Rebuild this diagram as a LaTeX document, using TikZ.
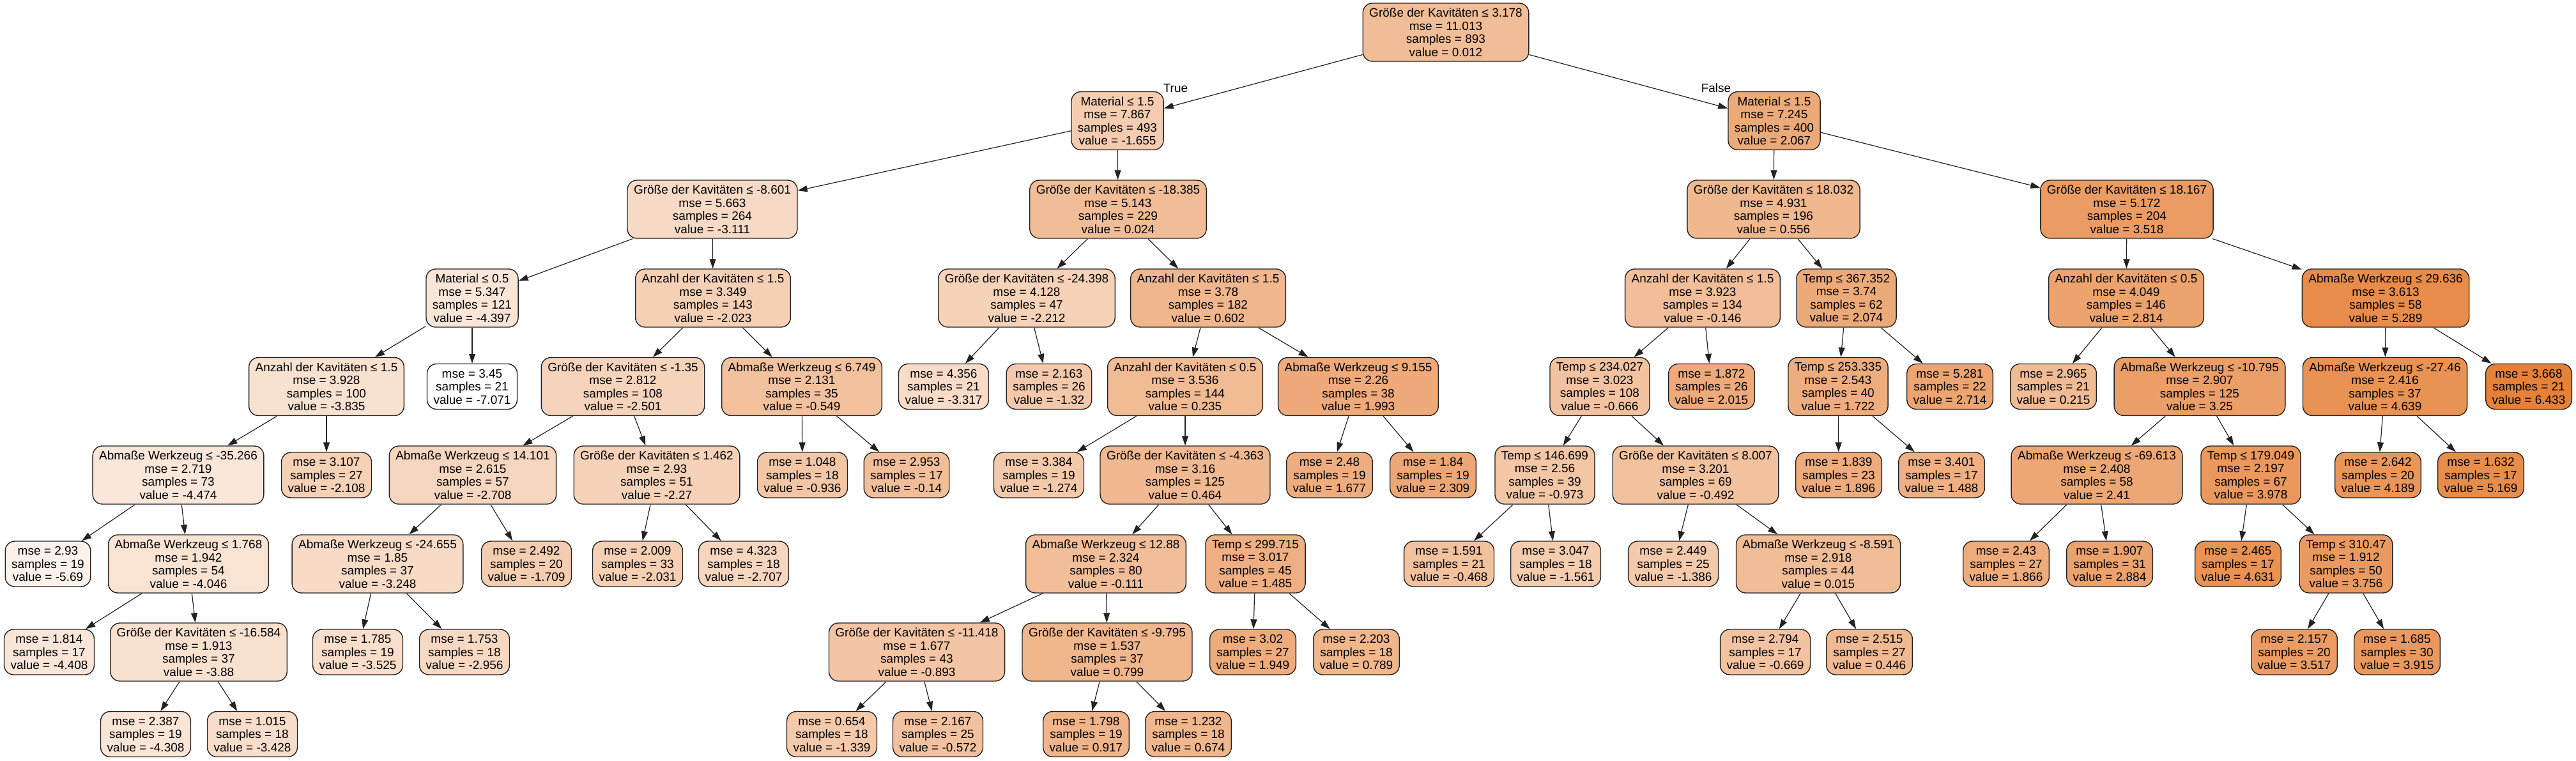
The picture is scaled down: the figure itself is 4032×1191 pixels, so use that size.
\documentclass[tikz,border=0pt]{standalone}
\usepackage{fontspec}
\setmainfont{Liberation Sans}
\usetikzlibrary{arrows.meta}
\definecolor{orng}{HTML}{E58139}
\definecolor{bord}{HTML}{222222}
\tikzset{
  box/.style={draw=bord, line width=1.4pt, rounded corners=15pt, align=center,
    inner xsep=10pt, inner ysep=2pt, font=\fontsize{19}{20.5}\selectfont, text=black},
  dec/.style={box, minimum height=91pt},
  leaf/.style={box, minimum height=71pt},
  edge/.style={line width=1.2pt, draw=bord, -{Triangle[length=15pt,width=10pt]}},
  elabel/.style={font=\fontsize{19}{20.5}\selectfont}
}
\newcommand{\DecN}[8]{\node[dec, fill=orng!#4!white] (#1) at (#2,#3) {#5\\mse = #6\\samples = #7\\value = #8};}
\newcommand{\LeafN}[7]{\node[leaf, fill=orng!#4!white] (#1) at (#2,#3) {mse = #5\\samples = #6\\value = #7};}
\begin{document}
\begin{tikzpicture}[x=1pt,y=-1pt]
\fill[white] (0,0) rectangle (4032,1191);
\useasboundingbox (0,0) rectangle (4032,1191);
% level 0
\DecN{n0}{2263}{50.5}{52.45}{Größe der Kavitäten ≤ 3.178}{11.013}{893}{0.012}
% level 1
\DecN{n1}{1749}{189}{40.11}{Material ≤ 1.5}{7.867}{493}{-1.655}
\DecN{n2}{2777}{189}{67.67}{Material ≤ 1.5}{7.245}{400}{2.067}
% level 2
\DecN{n3}{1115}{327.5}{29.32}{Größe der Kavitäten ≤ -8.601}{5.663}{264}{-3.111}
\DecN{n4}{1750}{327.5}{52.54}{Größe der Kavitäten ≤ -18.385}{5.143}{229}{0.024}
\DecN{n5}{2776}{327.5}{56.48}{Größe der Kavitäten ≤ 18.032}{4.931}{196}{0.556}
\DecN{n6}{3329}{327.5}{78.41}{Größe der Kavitäten ≤ 18.167}{5.172}{204}{3.518}
% level 3
\DecN{n7}{739}{466.5}{19.80}{Material ≤ 0.5}{5.347}{121}{-4.397}
\DecN{n8}{1116}{466.5}{37.38}{Anzahl der Kavitäten ≤ 1.5}{3.349}{143}{-2.023}
\DecN{n9}{1607}{466.5}{35.98}{Größe der Kavitäten ≤ -24.398}{4.128}{47}{-2.212}
\DecN{n10}{1891}{466.5}{56.82}{Anzahl der Kavitäten ≤ 1.5}{3.78}{182}{0.602}
\DecN{n11}{2665}{466.5}{51.28}{Anzahl der Kavitäten ≤ 1.5}{3.923}{134}{-0.146}
\DecN{n12}{2890}{466.5}{67.72}{Temp ≤ 367.352}{3.74}{62}{2.074}
\DecN{n13}{3328}{466.5}{73.20}{Anzahl der Kavitäten ≤ 0.5}{4.049}{146}{2.814}
\DecN{n14}{3734}{466.5}{91.53}{Abmaße Werkzeug ≤ 29.636}{3.613}{58}{5.289}
% level 4
\DecN{n15}{511}{605}{23.96}{Anzahl der Kavitäten ≤ 1.5}{3.928}{100}{-3.835}
\LeafN{n16}{739}{605}{0}{3.45}{21}{-7.071}
\DecN{n17}{975}{605}{33.84}{Größe der Kavitäten ≤ -1.35}{2.812}{108}{-2.501}
\DecN{n18}{1255}{605}{48.30}{Abmaße Werkzeug ≤ 6.749}{2.131}{35}{-0.549}
\LeafN{n19}{1477}{605}{27.80}{4.356}{21}{-3.317}
\LeafN{n20}{1642}{605}{42.59}{2.163}{26}{-1.32}
\DecN{n21}{1855}{605}{54.10}{Anzahl der Kavitäten ≤ 0.5}{3.536}{144}{0.235}
\DecN{n22}{2126}{605}{67.12}{Abmaße Werkzeug ≤ 9.155}{2.26}{38}{1.993}
\DecN{n23}{2504}{605}{47.43}{Temp ≤ 234.027}{3.023}{108}{-0.666}
\LeafN{n24}{2679}{605}{67.28}{1.872}{26}{2.015}
\DecN{n25}{2877}{605}{65.11}{Temp ≤ 253.335}{2.543}{40}{1.722}
\LeafN{n26}{3052}{605}{72.46}{5.281}{22}{2.714}
\LeafN{n27}{3214}{605}{53.95}{2.965}{21}{0.215}
\DecN{n28}{3443}{605}{76.43}{Abmaße Werkzeug ≤ -10.795}{2.907}{125}{3.25}
\DecN{n29}{3733}{605}{86.71}{Abmaße Werkzeug ≤ -27.46}{2.416}{37}{4.639}
\LeafN{n30}{3958}{605}{100}{3.668}{21}{6.433}
% level 5
\DecN{n31}{279}{743.5}{19.23}{Abmaße Werkzeug ≤ -35.266}{2.719}{73}{-4.474}
\LeafN{n32}{511}{743.5}{36.75}{3.107}{27}{-2.108}
\DecN{n33}{740}{743.5}{32.31}{Abmaße Werkzeug ≤ 14.101}{2.615}{57}{-2.708}
\DecN{n34}{1028}{743.5}{35.55}{Größe der Kavitäten ≤ 1.462}{2.93}{51}{-2.27}
\LeafN{n35}{1256}{743.5}{45.43}{1.048}{18}{-0.936}
\LeafN{n36}{1419}{743.5}{51.33}{2.953}{17}{-0.14}
\LeafN{n37}{1626}{743.5}{42.93}{3.384}{19}{-1.274}
\DecN{n38}{1855}{743.5}{55.80}{Größe der Kavitäten ≤ -4.363}{3.16}{125}{0.464}
\LeafN{n39}{2081}{743.5}{64.78}{2.48}{19}{1.677}
\LeafN{n40}{2243}{743.5}{69.46}{1.84}{19}{2.309}
\DecN{n41}{2418}{743.5}{45.16}{Temp ≤ 146.699}{2.56}{39}{-0.973}
\DecN{n42}{2654}{743.5}{48.72}{Größe der Kavitäten ≤ 8.007}{3.201}{69}{-0.492}
\LeafN{n43}{2878}{743.5}{66.40}{1.839}{23}{1.896}
\LeafN{n44}{3039}{743.5}{63.38}{3.401}{17}{1.488}
\DecN{n45}{3282}{743.5}{70.21}{Abmaße Werkzeug ≤ -69.613}{2.408}{58}{2.41}
\DecN{n46}{3523}{743.5}{81.82}{Temp ≤ 179.049}{2.197}{67}{3.978}
\LeafN{n47}{3722}{743.5}{83.38}{2.642}{20}{4.189}
\LeafN{n48}{3883}{743.5}{90.64}{1.632}{17}{5.169}
% level 6
\LeafN{n49}{75}{882.5}{10.23}{2.93}{19}{-5.69}
\DecN{n50}{295}{882.5}{22.40}{Abmaße Werkzeug ≤ 1.768}{1.942}{54}{-4.046}
\DecN{n51}{591}{882.5}{28.31}{Abmaße Werkzeug ≤ -24.655}{1.85}{37}{-3.248}
\LeafN{n52}{824}{882.5}{39.71}{2.492}{20}{-1.709}
\LeafN{n53}{998}{882.5}{37.32}{2.009}{33}{-2.031}
\LeafN{n54}{1164}{882.5}{32.32}{4.323}{18}{-2.707}
\DecN{n55}{1731}{882.5}{51.54}{Abmaße Werkzeug ≤ 12.88}{2.324}{80}{-0.111}
\DecN{n56}{1965}{882.5}{63.36}{Temp ≤ 299.715}{3.017}{45}{1.485}
\LeafN{n57}{2268}{882.5}{48.90}{1.591}{21}{-0.468}
\LeafN{n58}{2435}{882.5}{40.80}{3.047}{18}{-1.561}
\LeafN{n59}{2619}{882.5}{42.10}{2.449}{25}{-1.386}
\DecN{n60}{2846}{882.5}{52.47}{Abmaße Werkzeug ≤ -8.591}{2.918}{44}{0.015}
\LeafN{n61}{3140}{882.5}{66.18}{2.43}{27}{1.866}
\LeafN{n62}{3302}{882.5}{73.72}{1.907}{31}{2.884}
\LeafN{n63}{3503}{882.5}{86.66}{2.465}{17}{4.631}
\DecN{n64}{3672}{882.5}{80.18}{Temp ≤ 310.47}{1.912}{50}{3.756}
% level 7
\LeafN{n65}{77}{1020.5}{19.72}{1.814}{17}{-4.408}
\DecN{n66}{311}{1020.5}{23.63}{Größe der Kavitäten ≤ -16.584}{1.913}{37}{-3.88}
\LeafN{n67}{560}{1020.5}{26.26}{1.785}{19}{-3.525}
\LeafN{n68}{727}{1020.5}{30.47}{1.753}{18}{-2.956}
\DecN{n69}{1435}{1020.5}{45.75}{Größe der Kavitäten ≤ -11.418}{1.677}{43}{-0.893}
\DecN{n70}{1733}{1020.5}{58.28}{Größe der Kavitäten ≤ -9.795}{1.537}{37}{0.799}
\LeafN{n71}{1961}{1020.5}{66.80}{3.02}{27}{1.949}
\LeafN{n72}{2123}{1020.5}{58.21}{2.203}{18}{0.789}
\LeafN{n73}{2763}{1020.5}{47.41}{2.794}{17}{-0.669}
\LeafN{n74}{2926}{1020.5}{55.66}{2.515}{27}{0.446}
\LeafN{n75}{3591}{1020.5}{78.41}{2.157}{20}{3.517}
\LeafN{n76}{3752}{1020.5}{81.35}{1.685}{30}{3.915}
% level 8
\LeafN{n77}{228}{1149}{20.46}{2.387}{19}{-4.308}
\LeafN{n78}{395}{1149}{26.98}{1.015}{18}{-3.428}
\LeafN{n79}{1302}{1149}{42.45}{0.654}{18}{-1.339}
\LeafN{n80}{1468}{1149}{48.13}{2.167}{25}{-0.572}
\LeafN{n81}{1700}{1149}{59.15}{1.798}{19}{0.917}
\LeafN{n82}{1860}{1149}{57.35}{1.232}{18}{0.674}
% edges
\foreach \p/\c in {n0/n1,n0/n2,n1/n3,n1/n4,n2/n5,n2/n6,
  n3/n7,n3/n8,n4/n9,n4/n10,n5/n11,n5/n12,n6/n13,n6/n14,
  n7/n15,n7/n16,n8/n17,n8/n18,n9/n19,n9/n20,n10/n21,n10/n22,n11/n23,n11/n24,
  n12/n25,n12/n26,n13/n27,n13/n28,n14/n29,n14/n30,
  n15/n31,n15/n32,n17/n33,n17/n34,n18/n35,n18/n36,n21/n37,n21/n38,n22/n39,n22/n40,
  n23/n41,n23/n42,n25/n43,n25/n44,n28/n45,n28/n46,n29/n47,n29/n48,
  n31/n49,n31/n50,n33/n51,n33/n52,n34/n53,n34/n54,n38/n55,n38/n56,n41/n57,n41/n58,
  n42/n59,n42/n60,n45/n61,n45/n62,n46/n63,n46/n64,
  n50/n65,n50/n66,n51/n67,n51/n68,n55/n69,n55/n70,n56/n71,n56/n72,n60/n73,n60/n74,
  n64/n75,n64/n76,n66/n77,n66/n78,n69/n79,n69/n80,n70/n81,n70/n82}
  \draw[edge] (\p) -- (\c);
\node[elabel] (lt) at (1840,138) {True};
\node[elabel] (lf) at (2686,138) {False};
\end{tikzpicture}
\end{document}
